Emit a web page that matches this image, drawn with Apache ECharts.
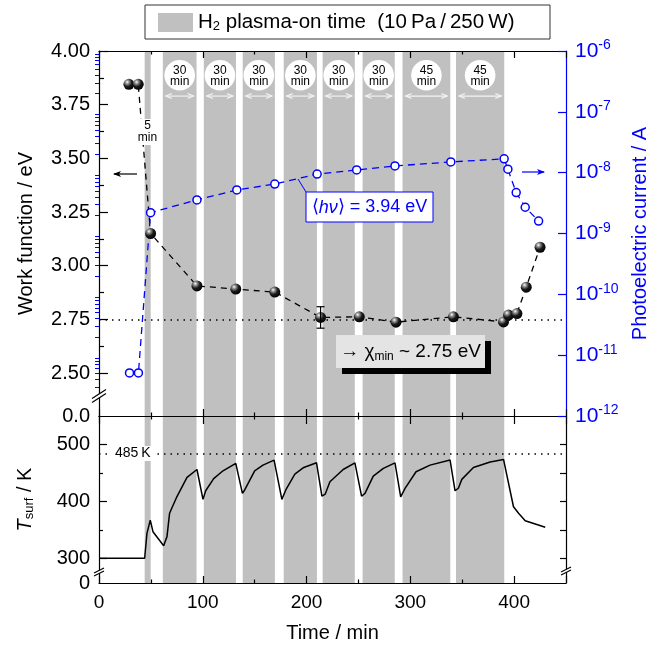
<!DOCTYPE html>
<html><head><meta charset="utf-8">
<script src="https://cdn.jsdelivr.net/npm/echarts@6/dist/echarts.min.js"></script>
<style>html,body{margin:0;padding:0;background:#fff}#c{width:666px;height:650px}</style>
</head><body><div id="c"></div>
<script>
// ---------- data ----------
const bandStart   = [44, 61.5, 101, 138.5, 178, 215.5, 254, 292.5, 344];
const bandEnd     = [49.8, 94, 132, 169.5, 210, 246.5, 285, 338.5, 390.5];
const bandMinutes = [5, 30, 30, 30, 30, 30, 30, 45, 45];

const wfTime  = [28.8, 37.8, 49.7, 94.4, 131.8, 169.4, 213.5, 250.8, 286.2, 341.5, 389.8, 394.6, 402.7, 411.7, 425];
const wfValue = [3.845, 3.845, 3.15, 2.906, 2.891, 2.877, 2.759, 2.762, 2.737, 2.762, 2.738, 2.77, 2.777, 2.90, 3.086];
const errTime = [213.5];
const errLow  = [2.709];
const errHigh = [2.809];

const pcTime  = [29.4, 38, 49.7, 94.4, 132.8, 169.4, 210.2, 248.3, 285.2, 339, 390.4, 394, 402, 410.7, 423.6];
const pcValue = [5.1e-12, 5.1e-12, 2.2e-9, 3.57e-9, 5.2e-9, 6.5e-9, 9.5e-9, 1.11e-8, 1.29e-8, 1.5e-8, 1.69e-8, 1.14e-8, 4.7e-9, 2.7e-9, 1.6e-9];

const tTime  = [0, 44, 46.2, 49.4, 52, 62.3, 65.5, 68, 75, 84.8, 94.4, 100.2, 102.8, 110.5, 119.5, 131.8, 138.2, 140.4, 150, 158, 168.7,
                176.2, 180, 188.7, 196.7, 209.6, 214.8, 218, 222.5, 235.3, 246.6, 253, 256.3, 264.3, 274, 285.2,
                290.7, 294.9, 305.5, 319, 338.3, 343.1, 346.3, 349.6, 360.8, 376.9, 389.8, 399.4, 404.3, 410.7, 430];
const tValue = [300, 300, 343.6, 367, 346.7, 322, 338, 379, 408, 442, 456, 403.5, 418.6, 440, 453.7, 466.7, 414, 420, 453.7, 463.7, 472.5,
                403.5, 420, 448, 459, 467.7, 409, 412.8, 434.4, 456, 467.7, 409, 414, 444.4, 458, 467.7,
                408, 422.8, 452, 463.7, 472.5, 418.6, 423, 438.6, 459.6, 469, 473.7, 390.5, 379, 366, 354.4];

const wfMajorTicks = [2.5, 2.75, 3.0, 3.25, 3.5, 3.75, 4.0];
const wfMinorTicks = [2.625, 2.875, 3.125, 3.375, 3.625, 3.875];
const wfBreakBase = 2.3;          // axis bottom, labelled "0.0"
const wfRefLevel = 2.75;          // chi_min
const pcRefLevel = 1.9e-8;
const tMajorTicks = [300, 400, 500];
const tMinorTicks = [350, 450];
const tBreakBase = 256.5;         // axis bottom, labelled "0"
const tRefLevel = 484;
const xLabels = [0, 100, 200, 300, 400];

// ---------- style ----------
const FONT = '"Liberation Sans", Arial, Helvetica, sans-serif';
const BLUE = '#0000ff';
const GRAY = '#c0c0c0';

const logMinor = [];
for (let n = -12; n < -6; n++) for (let k = 2; k <= 9; k++) logMinor.push(n + Math.log10(k));

const chart = echarts.init(document.getElementById('c'));

const xBase = {
  type: 'value', min: 0, max: 450, interval: 100, z: 3,
  splitLine: { show: false },
  axisLine: { onZero: false, lineStyle: { color: '#000', width: 1.2 } },
  axisTick: { inside: true, length: 7, lineStyle: { color: '#000', width: 1.2 } },
  minorTick: { show: true, splitNumber: 2, length: 3.5, lineStyle: { color: '#000', width: 1.2 } },
  axisLabel: { show: false }
};

function renderBands(withLabels) {
  return function (params, api) {
    const cs = params.coordSys;
    const s = api.value(0), e = api.value(1), m = api.value(2);
    const x1 = api.coord([s, withLabels ? 3 : 400])[0];
    const x2 = api.coord([e, withLabels ? 3 : 400])[0];
    const children = [{
      type: 'rect', shape: { x: x1, y: cs.y, width: x2 - x1, height: cs.height },
      style: { fill: GRAY }
    }];
    if (withLabels && m > 5) {
      const cx = (x1 + x2) / 2;
      const cy = api.coord([s, 3.887])[1];
      const ay = api.coord([s, 3.79])[1];
      children.push({ type: 'circle', shape: { cx: cx, cy: cy, r: 15.3 }, style: { fill: '#fff' } });
      children.push({ type: 'text', style: { text: String(m) + '\nmin', x: cx, y: cy + 0.5, align: 'center', verticalAlign: 'middle',
        fontSize: 12, fontFamily: FONT, lineHeight: 11, fill: '#000' } });
      const a1 = x1 + 3, a2 = x2 - 3;
      const st = { stroke: '#f4f4f4', lineWidth: 1.1, fill: null };
      children.push({ type: 'line', shape: { x1: a1, y1: ay, x2: a2, y2: ay }, style: st });
      children.push({ type: 'polyline', shape: { points: [[a1 + 6, ay - 2.5], [a1, ay], [a1 + 6, ay + 2.5]] }, style: st });
      children.push({ type: 'polyline', shape: { points: [[a2 - 6, ay - 2.5], [a2, ay], [a2 - 6, ay + 2.5]] }, style: st });
    }
    return { type: 'group', children: children };
  };
}

const ballColor = {
  type: 'radial', x: 0.35, y: 0.3, r: 0.75,
  colorStops: [{ offset: 0, color: '#ffffff' }, { offset: 0.2, color: '#9a9a9a' }, { offset: 0.55, color: '#1a1a1a' }, { offset: 1, color: '#000' }]
};

function breakMark(x, y, w, h, gap) {
  const p = (dx, dy) => [x + dx, y + dy];
  const l1 = [p(-w / 2, h / 2 - gap / 2), p(w / 2, -h / 2 - gap / 2)];
  const l2 = [p(-w / 2, h / 2 + gap / 2), p(w / 2, -h / 2 + gap / 2)];
  return [
    { type: 'polygon', z: 100, shape: { points: [l1[0], l1[1], l2[1], l2[0]] }, style: { fill: '#fff' } },
    { type: 'line', z: 101, shape: { x1: l1[0][0], y1: l1[0][1], x2: l1[1][0], y2: l1[1][1] }, style: { stroke: '#000', lineWidth: 1.2 } },
    { type: 'line', z: 101, shape: { x1: l2[0][0], y1: l2[0][1], x2: l2[1][0], y2: l2[1][1] }, style: { stroke: '#000', lineWidth: 1.2 } }
  ];
}

const option = {
  animation: false,
  backgroundColor: '#fff',
  textStyle: { fontFamily: FONT },
  grid: [
    { left: 99, right: 100, top: 51, height: 365 },
    { left: 99, right: 100, top: 416, height: 167 }
  ],
  xAxis: [
    Object.assign({}, xBase, { gridIndex: 0, position: 'bottom' }),
    Object.assign({}, xBase, { gridIndex: 0, position: 'top' }),
    Object.assign({}, xBase, { gridIndex: 1, position: 'top', axisTick: { inside: true, length: 8, lineStyle: { color: '#000', width: 1.2 } } }),
    Object.assign({}, xBase, {
      gridIndex: 1, position: 'bottom',
      axisLabel: { show: true, customValues: xLabels, fontSize: 19, margin: 10, color: '#000', fontFamily: FONT },
      name: 'Time / min', nameLocation: 'middle', nameGap: 40,
      nameTextStyle: { fontSize: 20, color: '#000', fontFamily: FONT }
    })
  ],
  yAxis: [
    { // 0 work function
      type: 'value', gridIndex: 0, position: 'left', min: wfBreakBase, max: 4.0, z: 3,
      splitLine: { show: false },
      axisLine: { onZero: false, lineStyle: { color: '#000', width: 1.2 } },
      axisTick: { inside: true, length: 9, customValues: wfMajorTicks, lineStyle: { color: '#000', width: 1.2 } },
      axisLabel: { customValues: [wfBreakBase].concat(wfMajorTicks), fontSize: 20, margin: 9, color: '#000', fontFamily: FONT,
        formatter: v => Math.abs(v - wfBreakBase) < 1e-6 ? '0.0' : v.toFixed(2) },
      name: 'Work function / eV', nameLocation: 'middle', nameGap: 63,
      nameTextStyle: { fontSize: 20, color: '#000', fontFamily: FONT }
    },
    { // 1 minor ticks
      type: 'value', gridIndex: 0, position: 'left', min: wfBreakBase, max: 4.0, z: 3,
      splitLine: { show: false }, axisLine: { show: false }, axisLabel: { show: false },
      axisTick: { inside: true, length: 5, customValues: wfMinorTicks, lineStyle: { color: '#000', width: 1.2 } }
    },
    { // 2 photoelectric current (log)
      type: 'log', logBase: 10, gridIndex: 0, position: 'right', min: 1e-12, max: 1e-6, z: 3,
      splitLine: { show: false },
      axisLine: { onZero: false, lineStyle: { color: BLUE, width: 1.2 } },
      axisTick: { inside: true, length: 8, lineStyle: { color: BLUE, width: 1.2 } },
      axisLabel: { margin: 9, color: BLUE, fontFamily: FONT,
        formatter: v => '{b|10}{s|' + Math.round(Math.log10(v)) + '}',
        rich: { b: { fontSize: 21, color: BLUE, fontFamily: FONT }, s: { fontSize: 14, color: BLUE, fontFamily: FONT, padding: [0, 0, 11, 0] } } },
      name: 'Photoelectric current / A', nameLocation: 'middle', nameGap: 64,
      nameTextStyle: { fontSize: 20, color: BLUE, fontFamily: FONT }
    },
    { // 3 log minor ticks
      type: 'value', gridIndex: 0, position: 'right', min: -12, max: -6, z: 3,
      splitLine: { show: false }, axisLine: { show: false }, axisLabel: { show: false },
      axisTick: { inside: true, length: 4, customValues: logMinor, lineStyle: { color: BLUE, width: 1 } }
    },
    { // 4 surface temperature
      type: 'value', gridIndex: 1, position: 'left', min: tBreakBase, max: 550, z: 3,
      splitLine: { show: false },
      axisLine: { onZero: false, lineStyle: { color: '#000', width: 1.2 } },
      axisTick: { inside: true, length: 8, customValues: tMajorTicks, lineStyle: { color: '#000', width: 1.2 } },
      axisLabel: { customValues: [tBreakBase].concat(tMajorTicks), fontSize: 20, margin: 9, color: '#000', fontFamily: FONT,
        formatter: v => v < 260 ? '0' : String(v) },
      name: '{i|T}{sub|surf} / K', nameLocation: 'middle', nameGap: 63,
      nameTextStyle: { fontSize: 20, color: '#000', fontFamily: FONT,
        rich: { i: { fontSize: 20, fontStyle: 'italic', fontFamily: FONT }, sub: { fontSize: 13, fontFamily: FONT, padding: [9, 0, 0, 0] } } }
    },
    { // 5 minor ticks
      type: 'value', gridIndex: 1, position: 'left', min: tBreakBase, max: 550, z: 3,
      splitLine: { show: false }, axisLine: { show: false }, axisLabel: { show: false },
      axisTick: { inside: true, length: 4, customValues: tMinorTicks, lineStyle: { color: '#000', width: 1.2 } }
    },
    { // 6 right border of lower panel
      type: 'value', gridIndex: 1, position: 'right', min: tBreakBase, max: 550, z: 3,
      splitLine: { show: false },
      axisLine: { onZero: false, lineStyle: { color: '#000', width: 1.2 } },
      axisLabel: { show: false },
      axisTick: { inside: true, length: 6, customValues: tMajorTicks.concat(tMinorTicks), lineStyle: { color: '#000', width: 1.2 } }
    }
  ],
  series: [
    { type: 'custom', xAxisIndex: 0, yAxisIndex: 0, z: 1, silent: true, clip: false,
      data: bandStart.map((s, i) => [s, bandEnd[i], bandMinutes[i]]), encode: { x: [0, 1] }, renderItem: renderBands(true) },
    { type: 'custom', xAxisIndex: 3, yAxisIndex: 4, z: 1, silent: true, clip: false,
      data: bandStart.map((s, i) => [s, bandEnd[i], bandMinutes[i]]), encode: { x: [0, 1] }, renderItem: renderBands(false) },
    { type: 'line', name: 'Work function', xAxisIndex: 0, yAxisIndex: 0, z: 5,
      data: wfTime.map((t, i) => [t, wfValue[i]]),
      symbol: 'circle', symbolSize: 11, showSymbol: true,
      itemStyle: { color: ballColor, borderWidth: 0 },
      lineStyle: { color: '#000', width: 1.3, type: [6, 5] },
      markLine: { silent: true, symbol: ['none', 'none'], label: { show: false },
        lineStyle: { color: '#000', width: 1.5, type: [1.5, 5] }, data: [{ yAxis: wfRefLevel }] }
    },
    { type: 'custom', xAxisIndex: 0, yAxisIndex: 0, z: 6, silent: true,
      data: errTime.map((t, i) => [t, errLow[i], errHigh[i]]),
      renderItem: function (params, api) {
        const lo = api.coord([api.value(0), api.value(1)]);
        const hi = api.coord([api.value(0), api.value(2)]);
        const st = { stroke: '#000', lineWidth: 1.2 };
        return { type: 'group', children: [
          { type: 'line', shape: { x1: lo[0], y1: lo[1], x2: hi[0], y2: hi[1] }, style: st },
          { type: 'line', shape: { x1: lo[0] - 4, y1: lo[1], x2: lo[0] + 4, y2: lo[1] }, style: st },
          { type: 'line', shape: { x1: hi[0] - 4, y1: hi[1], x2: hi[0] + 4, y2: hi[1] }, style: st }
        ] };
      }
    },
    { type: 'line', name: 'Photoelectric current', xAxisIndex: 0, yAxisIndex: 2, z: 5,
      data: pcTime.map((t, i) => [t, pcValue[i]]),
      symbol: 'circle', symbolSize: 8, showSymbol: true,
      itemStyle: { color: '#fff', borderColor: BLUE, borderWidth: 1.5 },
      lineStyle: { color: BLUE, width: 1.3, type: [7, 5] },
      markLine: { silent: true, symbol: ['none', 'none'], label: { show: false },
        lineStyle: { color: BLUE, width: 1.5, type: [1.5, 5] }, data: [{ yAxis: pcRefLevel }] }
    },
    { type: 'line', name: 'T surf', xAxisIndex: 3, yAxisIndex: 4, z: 5,
      data: tTime.map((t, i) => [t, tValue[i]]),
      symbol: 'none', lineStyle: { color: '#000', width: 1.5 },
      markLine: { silent: true, symbol: ['none', 'none'], label: { show: false },
        lineStyle: { color: '#000', width: 1.5, type: [1.5, 5] }, data: [{ yAxis: tRefLevel }] }
    }
  ],
  graphic: [].concat(
    [
      // legend
      { type: 'rect', z: 100, shape: { x: 145, y: 5, width: 405, height: 34 }, style: { fill: '#fff', stroke: '#333', lineWidth: 1 } },
      { type: 'rect', z: 101, shape: { x: 158, y: 13, width: 35, height: 19 }, style: { fill: GRAY } },
      { type: 'text', z: 101, style: { text: 'H{sub|2} plasma-on time  (10\u2009Pa\u2009/\u2009250\u2009W)', x: 198, y: 22,
        verticalAlign: 'middle', fontSize: 20.5, fontFamily: FONT, fill: '#000',
        rich: { sub: { fontSize: 13, fontFamily: FONT, padding: [9, 0, 0, 0] } } } },
      // 5 min label
      { type: 'rect', z: 100, shape: { x: 139, y: 119, width: 17, height: 26 }, style: { fill: '#fff' } },
      { type: 'text', z: 101, style: { text: '5\nmin', x: 147.5, y: 132, align: 'center', verticalAlign: 'middle', fontSize: 12, lineHeight: 12, fontFamily: FONT, fill: '#000' } },
      // left arrow
      { type: 'line', z: 100, shape: { x1: 114, y1: 174, x2: 137, y2: 174 }, style: { stroke: '#000', lineWidth: 1.2 } },
      { type: 'polygon', z: 100, shape: { points: [[113, 174], [121, 171], [119, 174], [121, 177]] }, style: { fill: '#000' } },
      // right blue arrow
      { type: 'line', z: 100, shape: { x1: 522, y1: 172, x2: 544, y2: 172 }, style: { stroke: BLUE, lineWidth: 1.2 } },
      { type: 'polygon', z: 100, shape: { points: [[545, 172], [537, 169], [539, 172], [537, 175]] }, style: { fill: BLUE } },
      // h nu box
      { type: 'line', z: 100, shape: { x1: 306, y1: 192, x2: 298, y2: 179 }, style: { stroke: BLUE, lineWidth: 1 } },
      { type: 'rect', z: 100, shape: { x: 306, y: 192, width: 127, height: 30 }, style: { fill: '#fff', stroke: BLUE, lineWidth: 1 } },
      { type: 'text', z: 101, style: { text: '\u27E8{i|h\u03BD}\u27E9 = 3.94 eV', x: 369.5, y: 207.5, align: 'center', verticalAlign: 'middle',
        fontSize: 18, fontFamily: FONT, fill: BLUE, rich: { i: { fontSize: 18, fontStyle: 'italic', fontFamily: FONT, color: BLUE } } } },
      // chi box
      { type: 'rect', z: 100, shape: { x: 342, y: 341, width: 149, height: 33 }, style: { fill: '#000' } },
      { type: 'rect', z: 101, shape: { x: 336, y: 335, width: 149, height: 33 }, style: { fill: '#e4e4e4' } },
      { type: 'text', z: 102, style: { text: '\u2192 \u03C7{sub|min} ~ 2.75 eV', x: 410.5, y: 351.5, align: 'center', verticalAlign: 'middle',
        fontSize: 19, fontFamily: FONT, fill: '#000', rich: { sub: { fontSize: 12, fontFamily: FONT, padding: [10, 0, 0, 0] } } } },
      // 485 K label
      { type: 'rect', z: 100, shape: { x: 112, y: 446, width: 42, height: 15 }, style: { fill: '#fff' } },
      { type: 'text', z: 101, style: { text: '485\u2009K', x: 115, y: 453.5, verticalAlign: 'middle', fontSize: 14, fontFamily: FONT, fill: '#000' } }
    ],
    breakMark(99, 396, 14, 9, 4),
    breakMark(99, 572, 10, 5, 3),
    breakMark(566, 571, 10, 5, 3)
  )
};

chart.setOption(option);
</script>
</body></html>
